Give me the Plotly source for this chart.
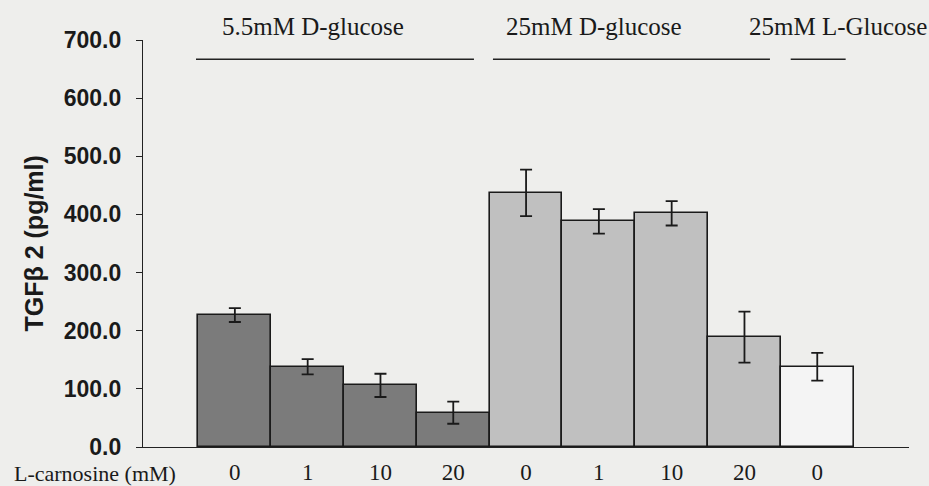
import plotly.graph_objects as go

# ---- data ----
carnosine_labels = ["0", "1", "10", "20", "0", "1", "10", "20", "0"]
tgfb2_values = [227, 138, 106, 59, 437, 388, 402, 189, 138]
tgfb2_errors = [12, 13, 20, 19, 40, 21, 21, 44, 24]
bar_colors = ["#7b7b7b"] * 4 + ["#c0c0c0"] * 4 + ["#f4f4f4"]
group_names = ["5.5mM D-glucose", "25mM D-glucose", "25mM L-Glucose"]
group_text_x = [1.07, 4.93, 8.28]
group_line_spans = [(-0.534, 3.284), (3.545, 7.35), (7.635, 8.39)]
y_ticks = [0, 100, 200, 300, 400, 500, 600, 700]

positions = list(range(len(tgfb2_values)))

BG = "#eeeeec"
serif = "Liberation Serif"
sans = "Liberation Sans"

fig = go.Figure()
fig.add_trace(go.Bar(
    x=positions,
    y=tgfb2_values,
    width=1.0,
    marker=dict(color=bar_colors, line=dict(color="#1a1a1a", width=1.6)),
    error_y=dict(type="data", array=tgfb2_errors, visible=True,
                 color="#1a1a1a", thickness=1.8, width=6),
    showlegend=False,
))

shapes = []
for (x0, x1) in group_line_spans:
    shapes.append(dict(type="line", xref="x", yref="y", x0=x0, x1=x1,
                       y0=667, y1=667, line=dict(color="#222222", width=1.4)))

annotations = []
for name, gx in zip(group_names, group_text_x):
    annotations.append(dict(text=name, x=gx, xref="x", y=1.032, yref="paper",
                            showarrow=False, xanchor="center", yanchor="middle",
                            font=dict(family=serif, size=25, color="#1a1a1a")))
annotations.append(dict(text="L-carnosine (mM)", x=-0.0627, xref="paper",
                        y=-0.064, yref="paper", showarrow=False,
                        xanchor="center", yanchor="middle",
                        font=dict(family=serif, size=22, color="#1a1a1a")))
annotations.append(dict(text="TGFβ 2 (pg/ml)", x=-0.1436, xref="paper",
                        y=0.5, yref="paper", showarrow=False, textangle=-90,
                        xanchor="center", yanchor="middle",
                        font=dict(family=sans, size=25, color="#1a1a1a", weight="bold")))

fig.update_layout(
    width=929, height=486,
    margin=dict(l=143, r=20, t=40, b=39, autoexpand=False),
    paper_bgcolor=BG, plot_bgcolor=BG,
    bargap=0,
    shapes=shapes,
    annotations=annotations,
    xaxis=dict(
        range=[-1.262, 9.26],
        tickmode="array", tickvals=positions, ticktext=carnosine_labels,
        showline=True, linecolor="#222222", linewidth=1.4,
        ticks="", showgrid=False, zeroline=False,
        tickfont=dict(family=serif, size=23, color="#1a1a1a"),
        ticklabelstandoff=4,
    ),
    yaxis=dict(
        range=[0, 700],
        tickmode="array", tickvals=y_ticks, tickformat=".1f",
        showline=True, linecolor="#222222", linewidth=1.4,
        ticks="outside", ticklen=6, tickcolor="#222222", tickwidth=1.4,
        showgrid=False, zeroline=False,
        tickfont=dict(family=sans, size=23, color="#1a1a1a", weight="bold"),
        ticklabelstandoff=10,
    ),
)

fig.write_html(
    "out.html",
    config={"displayModeBar": False},
    post_script="document.body.style.margin='0';document.body.style.background='" + BG + "';",
)
